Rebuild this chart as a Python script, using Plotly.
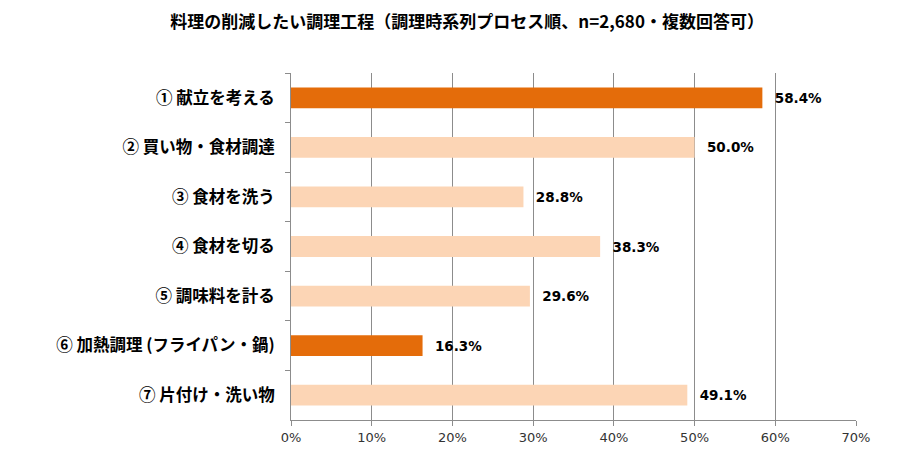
import plotly.graph_objects as go

categories = ["① 献立を考える", "② 買い物・食材調達", "③ 食材を洗う", "④ 食材を切る",
              "⑤ 調味料を計る", "⑥ 加熱調理 (フライパン・鍋)", "⑦ 片付け・洗い物"]
values = [58.4, 50.0, 28.8, 38.3, 29.6, 16.3, 49.1]
highlight = [True, False, False, False, False, True, False]
tick_vals = [0, 10, 20, 30, 40, 50, 60, 70]
tick_text = ["0%", "10%", "20%", "30%", "40%", "50%", "60%", "70%"]
title = "料理の削減したい調理工程（調理時系列プロセス順、n=2,680・複数回答可）"

colors = ["#E46C0A" if h else "#FCD5B5" for h in highlight]

fig = go.Figure(go.Bar(
    x=values, y=categories, orientation="h",
    marker=dict(color=colors, line=dict(width=0)),
    text=[f"{v:.1f}%" for v in values],
    textposition="outside",
    texttemplate="  %{text}",
    textfont=dict(family="DejaVu Sans", size=13.5, color="#000000", weight="bold"),
    cliponaxis=False,
    width=0.42,
))

fig.update_layout(
    width=916, height=456,
    margin=dict(l=291, r=60, t=73, b=36),
    paper_bgcolor="white", plot_bgcolor="white",
    title=dict(text=f"<b>{title}</b>", x=0.51, xanchor="center", y=0.952, yanchor="middle",
               font=dict(family="Noto Sans CJK JP", size=17, color="#000000")),
    showlegend=False,
    xaxis=dict(range=[0, 70], tickvals=tick_vals, ticktext=tick_text,
               showgrid=True, gridcolor="#8C8C8C", gridwidth=1,
               showline=True, linecolor="#8C8C8C", linewidth=1,
               ticks="outside", ticklen=5, tickcolor="#8C8C8C",
               tickfont=dict(family="DejaVu Sans", size=13, color="#333333"),
               zeroline=False, fixedrange=True),
    yaxis=dict(autorange="reversed", showline=True, linecolor="#8C8C8C", linewidth=1,
               ticks="outside", ticklen=5, tickcolor="#8C8C8C", tickson="boundaries",
               ticklabelstandoff=12,
               tickfont=dict(family="Noto Sans CJK JP", size=16.5, color="#000000", weight="bold"),
               showgrid=False),
)

fig.write_html("out.html")
